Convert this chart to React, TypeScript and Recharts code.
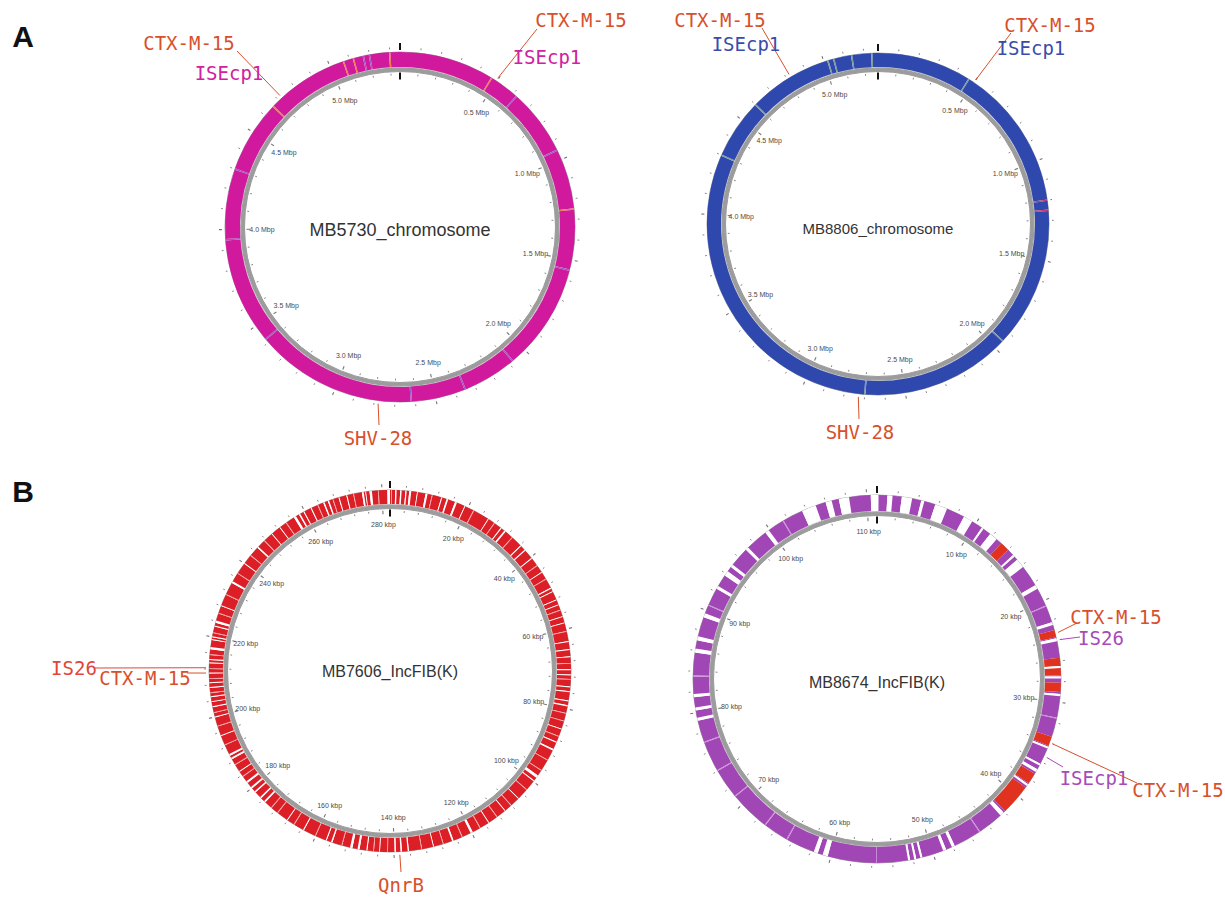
import { PieChart, Pie, Cell, Customized } from 'recharts'

// ---------------------------------------------------------------------------
// Genome sizes (chromosomes in Mbp, plasmids in kbp)
// ---------------------------------------------------------------------------
const MB5730_LENGTH = 5.35
const MB8806_LENGTH = 5.27
const MB7606_LENGTH = 282
const MB8674_LENGTH = 111

// tick labels
const CHROMOSOME_TICKS = [0.5, 1.0, 1.5, 2.0, 2.5, 3.0, 3.5, 4.0, 4.5, 5.0]
const MB7606_TICKS = [20, 40, 60, 80, 100, 120, 140, 160, 180, 200, 220, 240, 260, 280]
const MB8674_TICKS = [10, 20, 30, 40, 50, 60, 70, 80, 90, 100, 110]

// thin feature stripes on the chromosomes: [position, kind]
const MB5730_STRIPES: [number, string][] = [
    [0.47, 'mobile'], [0.62, 'other'], [0.95, 'other'], [1.25, 'mobile'], [1.55, 'other'],
    [2.08, 'other'], [2.35, 'other'], [2.62, 'other'], [3.42, 'other'], [3.95, 'other'],
    [4.3, 'other'], [4.66, 'mobile'], [5.07, 'mobile'], [5.12, 'mobile'], [5.17, 'other'],
    [5.2, 'other'], [5.3, 'mobile']
]
const MB8806_STRIPES: [number, string][] = [
    [0.47, 'mobile'], [1.2, 'other'], [1.25, 'other'], [1.95, 'mobile'], [2.7, 'mobile'],
    [4.3, 'mobile'], [4.6, 'mobile'], [5.02, 'mobile'], [5.05, 'mobile'], [5.14, 'mobile'],
    [5.24, 'mobile']
]

// plasmid MB7606: uncovered stretches and weakly covered stripes [start, end] kbp
const MB7606_GAPS: [number, number][] = [
    [1.3, 1.65], [2.55, 2.9], [3.85, 4.15], [4.8, 5.3], [6.75, 6.95], [8.9, 9.4], [12.9, 13.15],
    [14.3, 14.7], [16.5, 17.0], [19.05, 19.25], [25.7, 25.9], [29.55, 29.8], [30.7, 31.1],
    [36.1, 36.4], [37.6, 37.9], [40.25, 40.5], [44.55, 44.75], [49.05, 49.35], [50.05, 50.25],
    [52.3, 52.5], [53.6, 53.8], [56.7, 56.9], [58.3, 58.55], [63.05, 63.3], [65.05, 65.3],
    [66.85, 67.1], [70.05, 70.3], [71.35, 71.6], [74.35, 74.6], [75.55, 75.8], [77.85, 78.1],
    [79.05, 79.35], [85.05, 85.25], [88.55, 88.8], [90.5, 90.9], [98.1, 98.8], [99.65, 99.9],
    [105.5, 105.7], [110.0, 110.2], [115.0, 115.2], [119.7, 120.3], [124.9, 125.3],
    [130.0, 130.2], [136.3, 136.6], [138.05, 138.4], [139.55, 139.9], [143.5, 143.7],
    [146.65, 146.9], [148.6, 149.1], [150.4, 151.0], [155.55, 155.9], [157.05, 157.3],
    [163.25, 163.5], [168.0, 168.2], [175.1, 175.5], [176.55, 176.9], [178.55, 178.9],
    [179.85, 180.3], [181.6, 182.1], [185.0, 185.2], [188.65, 189.1], [189.65, 190.1],
    [195.0, 195.2], [199.85, 200.1], [202.45, 202.7], [203.75, 203.95], [204.95, 205.2],
    [207.25, 207.5], [208.45, 208.7], [210.9, 211.1], [213.45, 213.65], [214.25, 214.5],
    [216.9, 217.5], [219.25, 219.5], [219.95, 220.2], [222.65, 222.9], [223.6, 224.2],
    [228.0, 228.2], [234.3, 234.8], [240.0, 240.2], [245.1, 245.5], [250.0, 250.2],
    [252.55, 252.75], [256.9, 257.5], [258.35, 258.7], [259.65, 259.9], [261.65, 261.9],
    [265.05, 265.4], [266.25, 266.6], [269.05, 269.3], [271.05, 271.3], [275.0, 275.45],
    [275.85, 276.05], [276.9, 277.5], [281.35, 282.0]
]
const MB7606_FAINT: [number, number][] = [
    [0.3, 0.5], [10.5, 10.7], [21.5, 21.7], [27.5, 27.7], [33.2, 33.4], [42.5, 42.7],
    [46.5, 46.7], [55.0, 55.2], [60.5, 60.7], [68.5, 68.7], [72.5, 72.7], [81.0, 81.2],
    [83.0, 83.2], [87.0, 87.2], [93.5, 93.7], [96.5, 96.7], [102.5, 102.7], [108.0, 108.2],
    [112.5, 112.7], [117.5, 117.7], [122.5, 122.7], [127.5, 127.7], [133.0, 133.2],
    [141.5, 141.7], [145.0, 145.2], [153.0, 153.2], [160.0, 160.2], [166.0, 166.2],
    [171.0, 171.2], [173.0, 173.2], [183.5, 183.7], [187.0, 187.2], [192.5, 192.7],
    [197.5, 197.7], [201.0, 201.2], [206.0, 206.2], [209.5, 209.7], [212.0, 212.2],
    [215.5, 215.7], [221.0, 221.2], [226.0, 226.2], [231.0, 231.2], [237.0, 237.2],
    [242.5, 242.7], [247.5, 247.7], [254.5, 254.7], [263.5, 263.7], [267.5, 267.7],
    [272.8, 273.0], [279.0, 279.2]
]

// plasmid MB8674: uncovered stretches, resistance region hits, faint stripes [start, end] kbp
const MB8674_GAPS: [number, number][] = [
    [0.0, 0.15], [1.0, 1.5], [2.4, 3.4], [4.3, 4.6], [5.7, 6.9], [8.7, 9.6], [10.7, 10.9],
    [11.7, 12.5], [14.7, 14.9], [15.3, 16.2], [18.3, 18.7], [22.2, 22.5], [23.8, 24.1],
    [26.5, 26.7], [27.5, 27.7], [29.2, 29.4], [34.4, 34.6], [36.2, 36.4], [36.8, 37.1],
    [38.5, 38.7], [42.1, 42.5], [47.8, 48.1], [48.7, 49.0], [51.1, 51.3], [51.7, 51.9],
    [52.3, 52.5], [60.3, 60.8], [61.3, 61.7], [79.2, 79.5], [80.2, 80.5], [81.5, 81.8],
    [85.8, 86.2], [87.0, 87.4], [89.3, 89.7], [92.3, 92.6], [93.8, 94.3], [94.8, 95.1],
    [97.0, 97.3], [99.5, 99.9], [103.6, 105.0], [106.0, 106.6], [107.3, 108.3], [110.4, 111.0]
]
const MB8674_RESISTANCE: [number, number][] = [
    [13.1, 14.0], [23.0, 23.7], [25.7, 26.5], [26.7, 27.4], [28.1, 29.0], [33.4, 34.3],
    [37.3, 38.4], [38.9, 41.9]
]
const MB8674_FAINT: [number, number][] = [
    [20.5, 20.6], [31.5, 31.6], [45.0, 45.1], [55.5, 55.6], [64.5, 64.6], [67.0, 67.1],
    [71.0, 71.1], [74.0, 74.1], [77.0, 77.1], [83.5, 83.6], [90.5, 90.6], [101.5, 101.6]
]

// annotated genes: [name, position]
const MB5730_GENES: [string, number][] = [
    ['CTX-M-15', 4.72], ['ISEcp1', 4.72], ['CTX-M-15', 0.495], ['ISEcp1', 0.495], ['SHV-28', 2.78]
]
const MB8806_GENES: [string, number][] = [
    ['CTX-M-15', 4.82], ['ISEcp1', 4.82], ['CTX-M-15', 0.5], ['ISEcp1', 0.5], ['SHV-28', 2.73]
]
const MB7606_GENES: [string, number][] = [
    ['IS26', 212.3], ['CTX-M-15', 211.0], ['QnrB', 138.6]
]
const MB8674_GENES: [string, number][] = [
    ['CTX-M-15', 23.3], ['IS26', 24.0], ['ISEcp1', 35.4], ['CTX-M-15', 34.0]
]

// ---------------------------------------------------------------------------
// helpers
// ---------------------------------------------------------------------------
interface Segment { value: number; kind: string }
interface Block { start: number; end: number; kind: string }

function buildSegments(length: number, blocks: Block[]): Segment[] {
    const sorted = [...blocks].sort((a, b) => a.start - b.start)
    const out: Segment[] = []
    let cur = 0
    for (const b of sorted) {
        const s = Math.max(b.start, cur)
        const e = Math.min(b.end, length)
        if (e <= s) continue
        if (s > cur) out.push({ value: s - cur, kind: 'base' })
        out.push({ value: e - s, kind: b.kind })
        cur = e
    }
    if (cur < length) out.push({ value: length - cur, kind: 'base' })
    return out
}

const stripes = (list: [number, string][], w: number): Block[] =>
    list.map(([p, kind]) => ({ start: p - w / 2, end: p + w / 2, kind }))
const ranges = (list: [number, number][], kind: string): Block[] =>
    list.map(([start, end]) => ({ start, end, kind }))

// same angle convention as the Pie below: clockwise from 12 o'clock
const RAD = Math.PI / 180
function pt(cx: number, cy: number, r: number, pos: number, length: number) {
    const a = (90 - (pos / length) * 360) * RAD
    return { x: cx + r * Math.cos(a), y: cy - r * Math.sin(a) }
}

// ---------------------------------------------------------------------------
// map specs
// ---------------------------------------------------------------------------
const GENE_COLOR = '#d8502b'
const MONO = '"DejaVu Sans Mono", monospace'
const SANS = '"Liberation Sans", Arial, sans-serif'

interface MapSpec {
    title: string
    length: number
    unit: string
    labels: number[]
    minorStep: number
    segments: Segment[]
    palette: Record<string, string>
    genes: [string, number][]
    isColor: string
    // layout
    cx: number
    cy: number
    r: number
    band: number
    titleSize: number
    titleDy: number
    labelInset: number
    geneLayout: [number, number, number | null, number | null][]
}

const maps: MapSpec[] = [
    {
        title: 'MB5730_chromosome',
        length: MB5730_LENGTH,
        unit: 'Mbp',
        labels: CHROMOSOME_TICKS,
        minorStep: 0.1,
        segments: buildSegments(MB5730_LENGTH, stripes(MB5730_STRIPES, 0.007)),
        palette: { base: '#d1199e', mobile: '#ef7d4a', other: '#9b5ac6' },
        genes: MB5730_GENES,
        isColor: '#d0219f',
        cx: 400, cy: 227, r: 175, band: 15, titleSize: 18, titleDy: 3, labelInset: 37,
        geneLayout: [
            [189, 43, 237, 51], [229, 73, null, null], [581, 20, 537, 29], [547, 57, null, null],
            [378, 438, 379, 425]
        ]
    },
    {
        title: 'MB8806_chromosome',
        length: MB8806_LENGTH,
        unit: 'Mbp',
        labels: CHROMOSOME_TICKS,
        minorStep: 0.1,
        segments: buildSegments(MB8806_LENGTH, stripes(MB8806_STRIPES, 0.007)),
        palette: { base: '#2f48ae', mobile: '#7f9d99', other: '#c03a6c' },
        genes: MB8806_GENES,
        isColor: '#3a4cab',
        cx: 878, cy: 224, r: 171, band: 14, titleSize: 15, titleDy: 4, labelInset: 34,
        geneLayout: [
            [720, 20, 762, 28], [746, 44, null, null], [1050, 25, 1011, 33], [1031, 48, null, null],
            [860, 432, 859, 419]
        ]
    },
    {
        title: 'MB7606_IncFIB(K)',
        length: MB7606_LENGTH,
        unit: 'kbp',
        labels: MB7606_TICKS,
        minorStep: 4,
        segments: buildSegments(MB7606_LENGTH, [
            ...ranges(MB7606_GAPS, 'gap'),
            ...ranges(MB7606_FAINT, 'faint')
        ]),
        palette: { base: '#dc1f26', gap: '#ffffff', faint: '#f2a3a3' },
        genes: MB7606_GENES,
        isColor: '#e2453a',
        cx: 390, cy: 671, r: 181, band: 14, titleSize: 16, titleDy: 0, labelInset: 34,
        geneLayout: [[74, 668, 95, 668], [145, 678, 187, 673], [401, 885, 401, 872]]
    },
    {
        title: 'MB8674_IncFIB(K)',
        length: MB8674_LENGTH,
        unit: 'kbp',
        labels: MB8674_TICKS,
        minorStep: 2,
        segments: buildSegments(MB8674_LENGTH, [
            ...ranges(MB8674_GAPS, 'gap'),
            ...ranges(MB8674_RESISTANCE, 'hit'),
            ...ranges(MB8674_FAINT, 'faint')
        ]),
        palette: { base: '#a146b5', gap: '#ffffff', hit: '#e0321e', faint: '#c98bd6' },
        genes: MB8674_GENES,
        isColor: '#a64bb8',
        cx: 877, cy: 679, r: 184, band: 16, titleSize: 16, titleDy: 3, labelInset: 36,
        geneLayout: [
            [1116, 617, 1077, 623], [1101, 638, 1080, 637], [1094, 778, 1063, 767],
            [1178, 790, 1137, 783]
        ]
    }
]

// ---------------------------------------------------------------------------
// decorations: ticks, tick labels, title, gene call-outs
// ---------------------------------------------------------------------------
function MapDecor({ m }: { m: MapSpec }) {
    const greyOuter = m.r - m.band - 1
    const greyInner = m.r - m.band - 4.5
    const count = Math.floor(m.length / m.minorStep + 1e-6)
    const ticks = []
    for (let i = 1; i <= count; i++) {
        const p = i * m.minorStep
        if (p >= m.length - 1e-6) break
        const major = i % 5 === 0
        const o1 = pt(m.cx, m.cy, m.r + 3, p, m.length)
        const o2 = pt(m.cx, m.cy, m.r + (major ? 6 : 4.8), p, m.length)
        const i1 = pt(m.cx, m.cy, greyInner - 2, p, m.length)
        const i2 = pt(m.cx, m.cy, greyInner - (major ? 5.5 : 3.8), p, m.length)
        ticks.push(
            <g key={i}>
                <line x1={o1.x} y1={o1.y} x2={o2.x} y2={o2.y} stroke="#777" strokeWidth={major ? 1.1 : 0.9} />
                <line x1={i1.x} y1={i1.y} x2={i2.x} y2={i2.y} stroke="#777" strokeWidth={major ? 1.1 : 0.9} />
            </g>
        )
    }
    return (
        <g>
            <circle cx={m.cx} cy={m.cy} r={m.r} fill="none" stroke="#8d8d8d" strokeWidth={0.8} />
            <circle cx={m.cx} cy={m.cy} r={m.r - m.band} fill="none" stroke="#9a9a9a" strokeWidth={0.5} />
            <circle cx={m.cx} cy={m.cy} r={greyOuter} fill="none" stroke="#555" strokeWidth={0.6} />
            <circle cx={m.cx} cy={m.cy} r={greyInner} fill="none" stroke="#555" strokeWidth={0.6} />
            {ticks}
            {/* origin marks */}
            <line x1={m.cx} y1={m.cy - m.r - 2} x2={m.cx} y2={m.cy - m.r - 9} stroke="#111" strokeWidth={2} />
            <line x1={m.cx} y1={m.cy - greyInner + 1} x2={m.cx} y2={m.cy - greyInner + 8} stroke="#111" strokeWidth={2} />
            {m.labels.map((v) => {
                const p = pt(m.cx, m.cy, m.r - m.labelInset, v, m.length)
                const txt = m.unit === 'Mbp' ? `${v.toFixed(1)} Mbp` : `${v} kbp`
                return (
                    <text key={v} x={p.x} y={p.y} fontSize={7} fill="#4a4a4a" fontFamily={SANS}
                        textAnchor="middle" dominantBaseline="central">{txt}</text>
                )
            })}
            <text x={m.cx} y={m.cy + m.titleDy} fontSize={m.titleSize} fill="#333" fontFamily={SANS}
                textAnchor="middle" dominantBaseline="central">{m.title}</text>
            {m.genes.map(([name, pos], i) => {
                const [tx, ty, lx, ly] = m.geneLayout[i]
                const color = name.startsWith('IS') ? m.isColor : GENE_COLOR
                const start = pt(m.cx, m.cy, m.r + 3, pos, m.length)
                return (
                    <g key={i}>
                        {lx !== null && ly !== null && (
                            <line x1={start.x} y1={start.y} x2={lx} y2={ly} stroke={color} strokeWidth={1} />
                        )}
                        <text x={tx} y={ty} fontSize={19} fill={color} fontFamily={MONO}
                            textAnchor="middle" dominantBaseline="central">{name}</text>
                    </g>
                )
            })}
        </g>
    )
}

function Decorations() {
    return (
        <g>
            {maps.map((m) => <MapDecor key={m.title} m={m} />)}
            <text x={23} y={36} fontSize={30} fontWeight="bold" fill="#111" fontFamily={SANS}
                textAnchor="middle" dominantBaseline="central">A</text>
            <text x={23} y={491} fontSize={30} fontWeight="bold" fill="#111" fontFamily={SANS}
                textAnchor="middle" dominantBaseline="central">B</text>
        </g>
    )
}

export default function App() {
    return (
        <div style={{ position: 'absolute', left: 0, top: 0, width: 1225, height: 899, background: '#fff' }}>
            <PieChart width={1225} height={899} margin={{ top: 0, right: 0, bottom: 0, left: 0 }}>
                {maps.map((m) => (
                    <Pie
                        key={`band-${m.title}`}
                        data={m.segments}
                        dataKey="value"
                        cx={m.cx}
                        cy={m.cy}
                        innerRadius={m.r - m.band}
                        outerRadius={m.r}
                        startAngle={90}
                        endAngle={-270}
                        paddingAngle={0}
                        stroke="none"
                        isAnimationActive={false}
                    >
                        {m.segments.map((s, i) => (
                            <Cell key={`c-${i}`} fill={m.palette[s.kind]} />
                        ))}
                    </Pie>
                ))}
                {maps.map((m) => (
                    <Pie
                        key={`ring-${m.title}`}
                        data={[{ value: 1 }, { value: 1 }]}
                        dataKey="value"
                        cx={m.cx}
                        cy={m.cy}
                        innerRadius={m.r - m.band - 4.5}
                        outerRadius={m.r - m.band - 1}
                        startAngle={90}
                        endAngle={-270}
                        stroke="none"
                        fill="#9c9c9c"
                        isAnimationActive={false}
                    />
                ))}
                <Customized component={<Decorations />} />
            </PieChart>
        </div>
    )
}
